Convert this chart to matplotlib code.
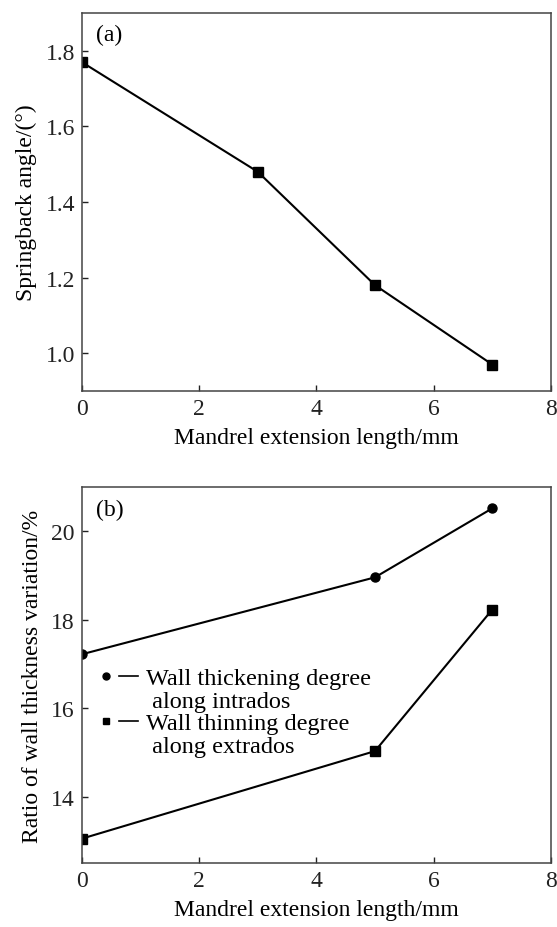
import matplotlib.pyplot as plt
from matplotlib.lines import Line2D
from matplotlib.legend_handler import HandlerTuple

plt.rcParams['font.family'] = ['Liberation Serif', 'DejaVu Serif']

# panel (a)
ext_a = [0, 3, 5, 7]
springback = [1.77, 1.48, 1.18, 0.97]

# panel (b)
ext_b = [0, 5, 7]
thickening = [17.22, 18.96, 20.52]
thinning = [13.05, 15.03, 18.23]

xticks = [0, 2, 4, 6, 8]
yticks_a = [1.0, 1.2, 1.4, 1.6, 1.8]
yticks_b = [14, 16, 18, 20]

fig = plt.figure(figsize=(5.57, 9.28), dpi=100)
ax1 = fig.add_axes([0.147, 0.5776, 0.842, 0.4073])
ax2 = fig.add_axes([0.147, 0.069, 0.842, 0.405])

fs = 17
for ax in (ax1, ax2):
    ax.tick_params(direction='in', length=4, width=1, labelsize=fs,
                   top=False, right=False, colors='#222222', pad=5)
    for s in ax.spines.values():
        s.set_linewidth(1.1)
        s.set_color('#444444')
    ax.set_xlim(0, 8)
    ax.set_xticks(xticks)
    ax.set_xlabel('Mandrel extension length/mm', fontsize=fs, labelpad=6)

ax1.plot(ext_a, springback, color='black', lw=1.5, marker='s', ms=6.5)
ax1.set_ylim(0.9, 1.9)
ax1.set_yticks(yticks_a)
ax1.set_yticklabels(['%.1f' % v for v in yticks_a])
ax1.set_ylabel('Springback angle/(°)', fontsize=fs, labelpad=6)
ax1.text(0.03, 0.97, '(a)', transform=ax1.transAxes, fontsize=fs, va='top')

ax2.plot(ext_b, thickening, color='black', lw=1.5, marker='o', ms=6.5)
ax2.plot(ext_b, thinning, color='black', lw=1.5, marker='s', ms=6.5)
ax2.set_ylim(12.5, 21)
ax2.set_yticks(yticks_b)
ax2.set_ylabel('Ratio of wall thickness variation/%', fontsize=fs, labelpad=6)
ax2.text(0.03, 0.97, '(b)', transform=ax2.transAxes, fontsize=fs, va='top')

m1 = Line2D([], [], color='black', marker='o', ms=5, ls='none')
m2 = Line2D([], [], color='black', marker='s', ms=5, ls='none')
ln = Line2D([], [], color='black', lw=1.2)
blank = Line2D([], [], ls='none')
handles = [(m1, ln), blank, (m2, ln), blank]
labels = ['Wall thickening degree', ' along intrados',
          'Wall thinning degree', ' along extrados']
ax2.legend(handles, labels, loc='upper left', bbox_to_anchor=(-0.005, 0.566),
           frameon=False, fontsize=17.5, handlelength=1.7, handletextpad=0.35,
           labelspacing=0.02, borderaxespad=0.3,
           handler_map={tuple: HandlerTuple(ndivide=None, pad=0.15)})

fig.savefig('out.png', dpi=100)
